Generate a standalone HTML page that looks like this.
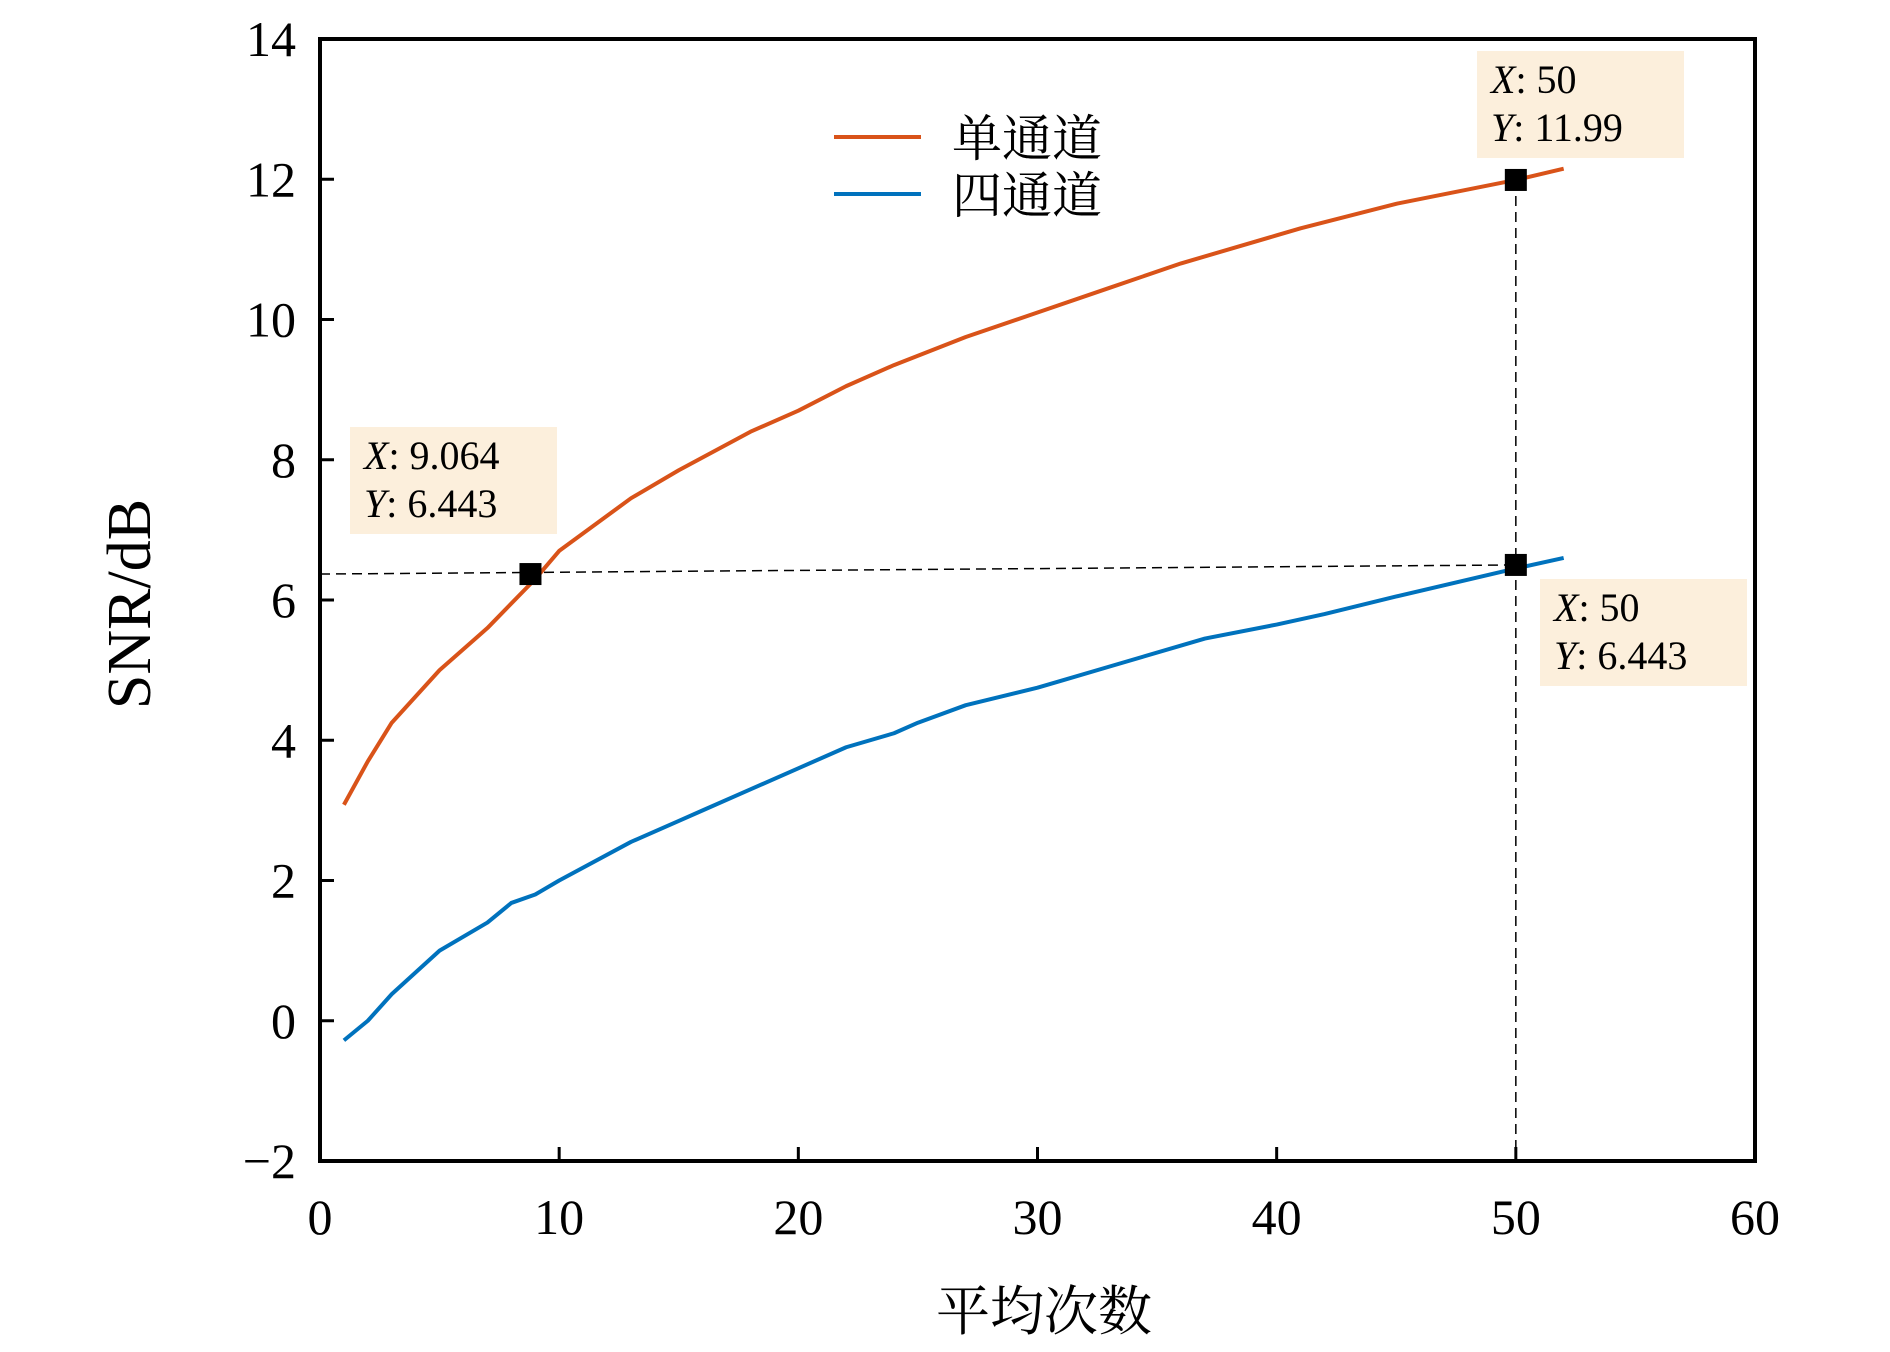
<!DOCTYPE html>
<html><head><meta charset="utf-8"><style>
html,body{margin:0;padding:0;background:#fff;}
svg text{font-family:"Liberation Serif","Noto Serif CJK SC",serif;}
</style></head><body>
<svg id="chart" width="1890" height="1347" viewBox="0 0 1890 1347" xmlns="http://www.w3.org/2000/svg"></svg>
<script>
const xTicks=[0,10,20,30,40,50,60];
const yTicks=[-2,0,2,4,6,8,10,12,14];
const xSingle=[1,2,3,5,7,9,10,13,15,18,20,22,24,27,30,33,36,40,41,45,50,52];
const ySingle=[3.08,3.7,4.25,5.0,5.6,6.3,6.7,7.45,7.85,8.4,8.7,9.05,9.35,9.75,10.1,10.45,10.8,11.2,11.3,11.65,11.99,12.15];
const xFour=[1,2,3,5,7,8,9,10,13,15,16,18,20,22,24,25,27,30,31,33,36,37,40,42,45,50,52];
const yFour=[-0.28,0.0,0.38,1.0,1.4,1.68,1.8,2.0,2.55,2.85,3.0,3.3,3.6,3.9,4.1,4.25,4.5,4.75,4.85,5.05,5.35,5.45,5.65,5.8,6.05,6.45,6.6];
const markerX=[8.8,50,50];
const markerY=[6.37,11.99,6.5];

const L=320,R=1755,T=39,B=1161;
const sx=v=>L+(v-0)/(60-0)*(R-L);
const sy=v=>B-(v+2)/(16)*(B-T);
const svg=document.getElementById('chart');
const NS='http://www.w3.org/2000/svg';
function mk(tag,attrs,parent){const e=document.createElementNS(NS,tag);for(const k in attrs)e.setAttribute(k,attrs[k]);(parent||svg).appendChild(e);return e;}

xTicks.forEach(v=>{
  const t=mk('line',{x1:sx(v),x2:sx(v),y1:B,y2:B-14,stroke:'#000','stroke-width':3});
  
  
  const l=mk('text',{x:sx(v),y:1234,'text-anchor':'middle','font-size':50});
  l.textContent=v;
  
  
});
yTicks.forEach(v=>{
  const t=mk('line',{x1:L,x2:L+14,y1:sy(v),y2:sy(v),stroke:'#000','stroke-width':3});
  
  
  const l=mk('text',{x:296,y:sy(v)+17,'text-anchor':'end','font-size':50});
  l.textContent=v<0?'\u2212'+(-v):v;
  
  
});

function line(xs,ys,color,name){
  const p=mk('polyline',{points:xs.map((x,i)=>sx(x)+','+sy(ys[i])).join(' '),fill:'none',stroke:color,'stroke-width':4,'stroke-linejoin':'round'});
  
  
}
line(xSingle,ySingle,'#d95319','single-channel-line');
line(xFour,yFour,'#0072bd','four-channel-line');

const d1=mk('line',{x1:L,y1:sy(markerY[0]),x2:sx(markerX[2]),y2:sy(markerY[2]),stroke:'#000','stroke-width':1.5,'stroke-dasharray':'10,6'});


const d2=mk('line',{x1:sx(markerX[1]),y1:sy(markerY[1]),x2:sx(markerX[1]),y2:B,stroke:'#000','stroke-width':1.5,'stroke-dasharray':'10,6'});



markerX.forEach((x,i)=>{
  const m=mk('rect',{x:sx(x)-11,y:sy(markerY[i])-11,width:22,height:22,fill:'#000'});
  
  
});

function box(x,y,l1,l2){
  const g=mk('g',{});
  
  
  mk('rect',{x:x,y:y,width:207,height:107,fill:'#fcefdc'},g);
  const t1=mk('text',{x:x+14,y:y+42,'font-size':40},g);
  t1.innerHTML='<tspan font-style="italic">X</tspan>: '+l1;
  const t2=mk('text',{x:x+14,y:y+90,'font-size':40},g);
  t2.innerHTML='<tspan font-style="italic">Y</tspan>: '+l2;
}
box(350,427,'9.064','6.443');
box(1477,51,'50','11.99');
box(1540,579,'50','6.443');

const fr=mk('rect',{x:L,y:T,width:R-L,height:B-T,fill:'none',stroke:'#000','stroke-width':4});



const lg=mk('g',{});


mk('line',{x1:834,x2:921,y1:137,y2:137,stroke:'#d95319','stroke-width':4},lg);
mk('line',{x1:834,x2:921,y1:194,y2:194,stroke:'#0072bd','stroke-width':4},lg);
const lt1=mk('text',{x:952,y:156,'font-size':50},lg);lt1.textContent='单通道';
const lt2=mk('text',{x:952,y:213,'font-size':50},lg);lt2.textContent='四通道';

const xl=mk('text',{x:1044,y:1330,'text-anchor':'middle','font-size':54});
xl.textContent='平均次数';


const yl=mk('text',{x:0,y:0,'text-anchor':'middle','font-size':62,transform:'translate(150,604) rotate(-90)'});
yl.textContent='SNR/dB';


</script>
</body></html>
